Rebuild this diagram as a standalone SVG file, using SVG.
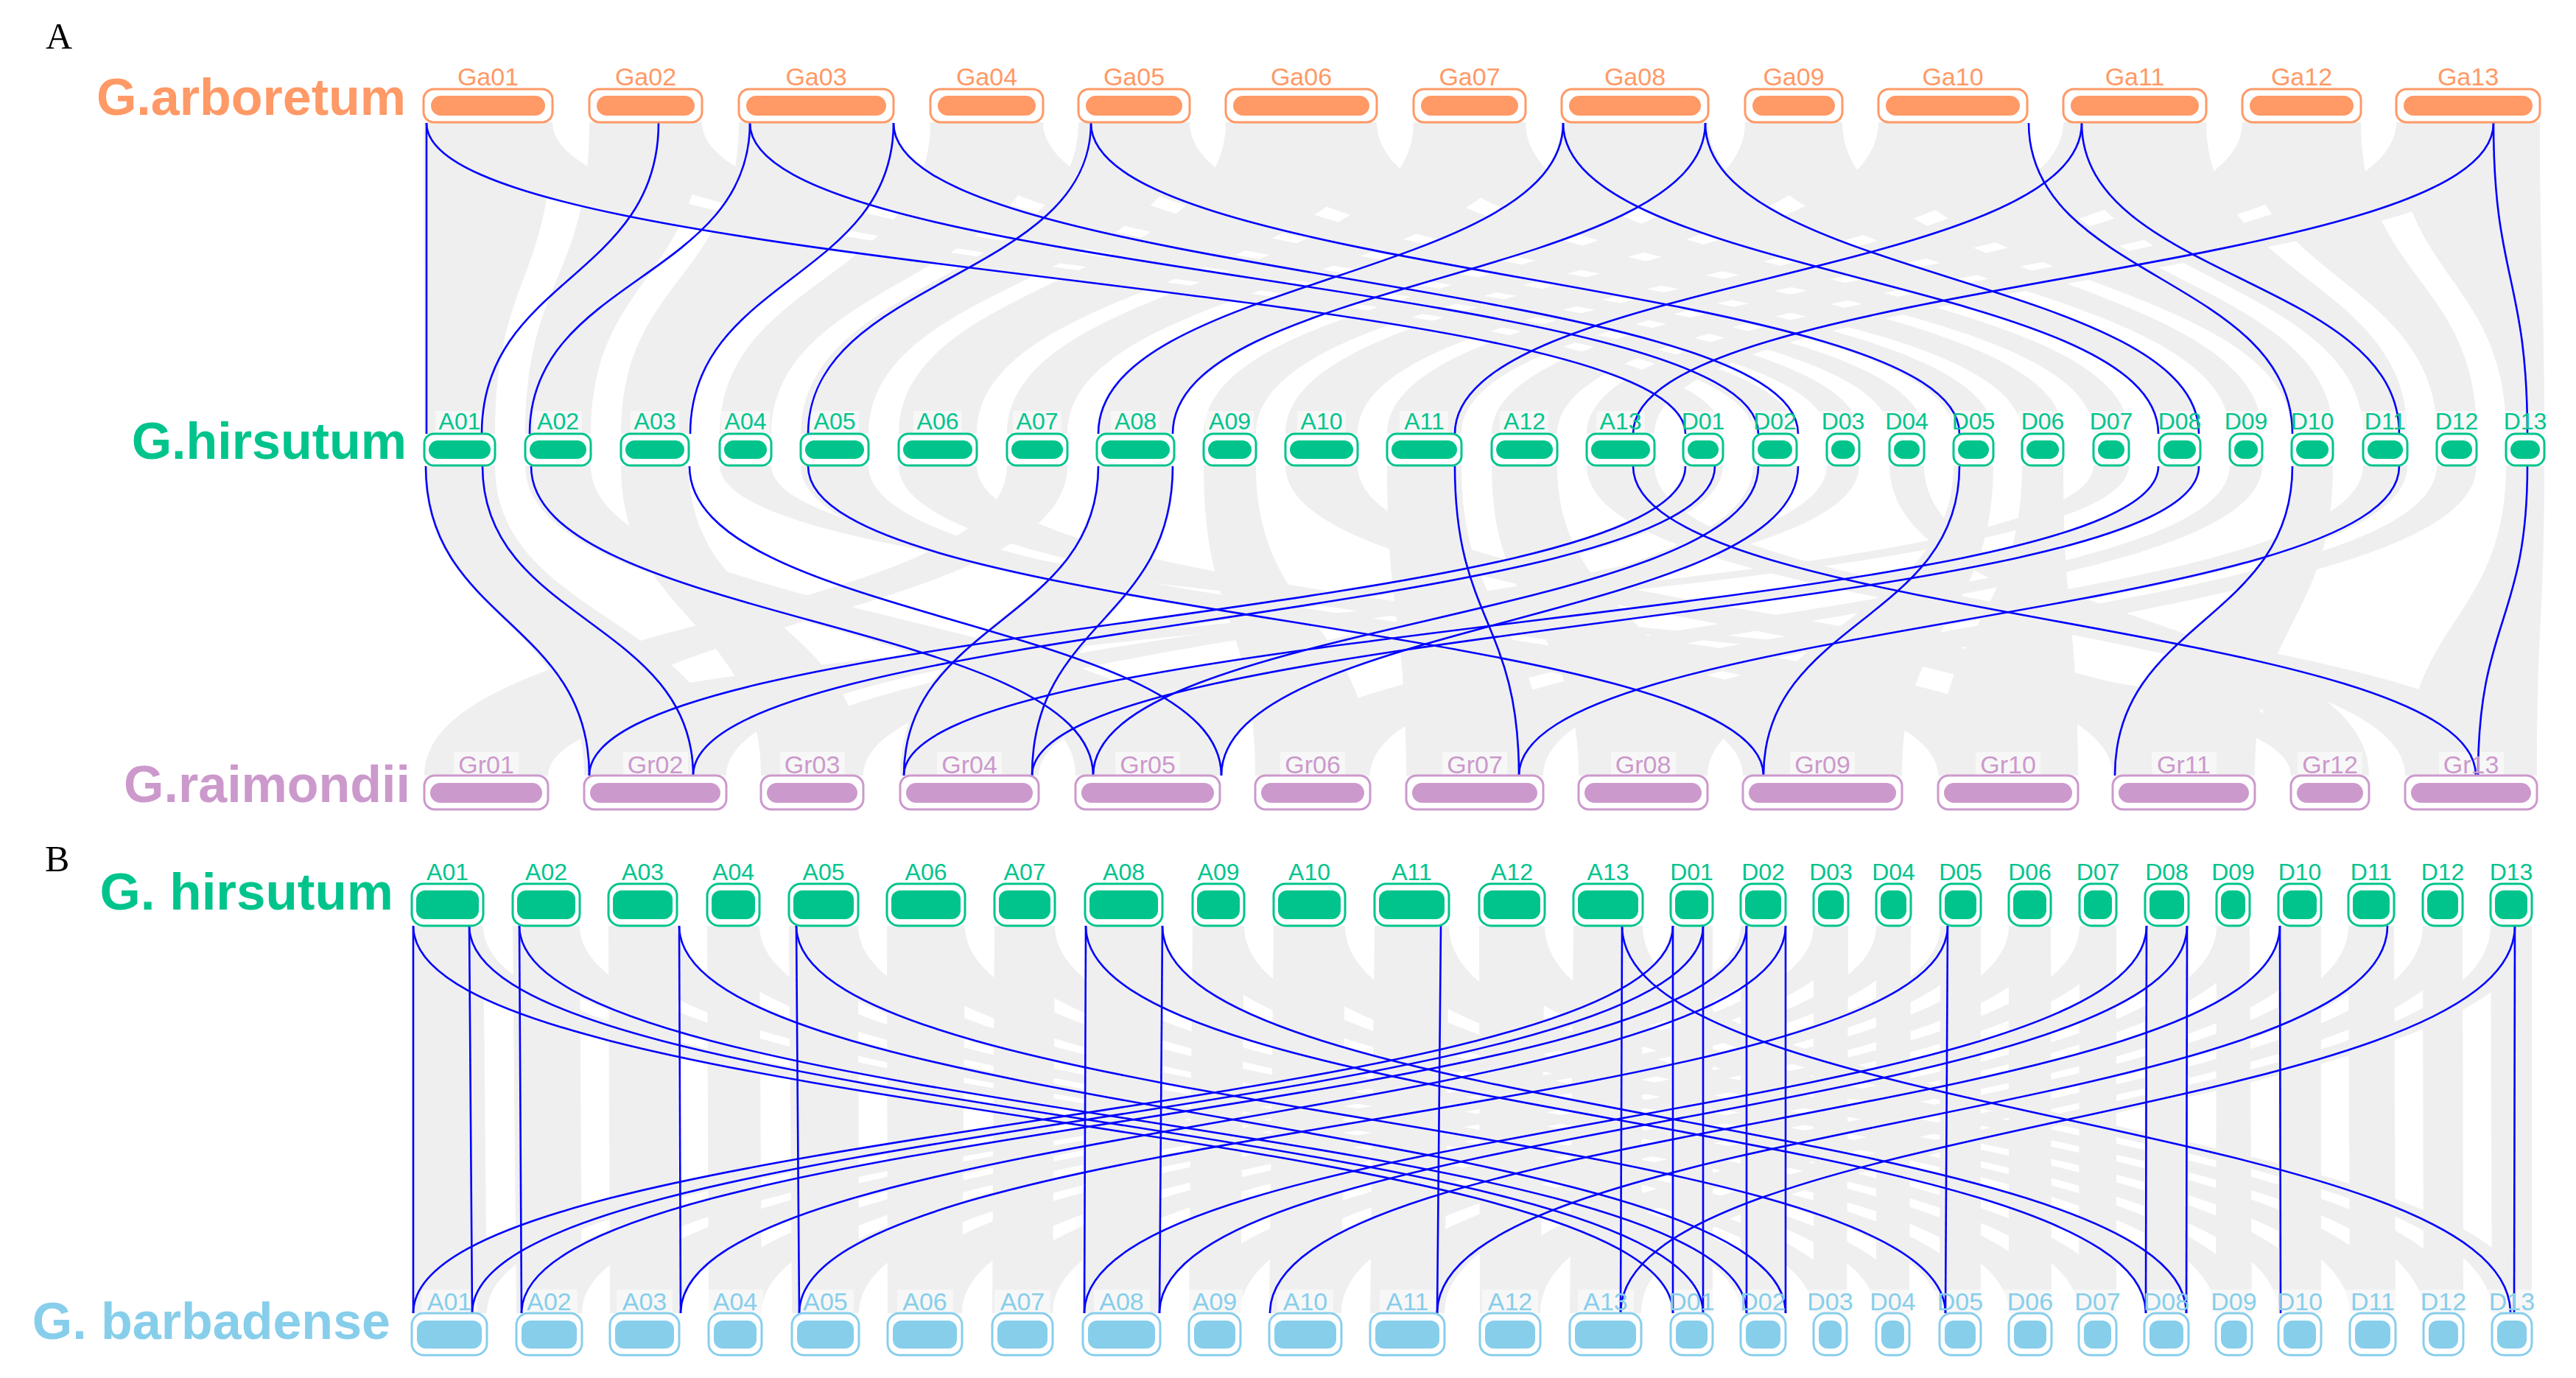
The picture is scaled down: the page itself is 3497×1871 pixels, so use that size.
<svg xmlns="http://www.w3.org/2000/svg" width="3497" height="1871" viewBox="0 0 3497 1871">
<style>
text{font-family:"Liberation Sans",Arial,sans-serif;text-anchor:middle}
.rb{fill:#efefef}
.rx{fill:#efefef}
.lk{fill:none;stroke:#0000ff;stroke-width:2.6}
.lb{fill:#fff;fill-opacity:.5}
.o1{fill:#fff;stroke:#ff9966;stroke-width:3}.i1{fill:#ff9966}.t1{fill:#ff9966;font-size:34px}
.o2{fill:#fff;stroke:#00c48c;stroke-width:3}.i2{fill:#00c48c}.t2{fill:#00c48c;font-size:32px}
.o3{fill:#fff;stroke:#cc99cc;stroke-width:3}.i3{fill:#cc99cc}.t3{fill:#cc99cc;font-size:34px}
.o4{fill:#fff;stroke:#87ceeb;stroke-width:3}.i4{fill:#87ceeb}.t4{fill:#87ceeb;font-size:34px}
.sp{font-weight:bold;font-size:70px;text-anchor:end}
.pl{font-family:"Liberation Serif",serif;font-size:50px;text-anchor:start;fill:#000}
</style>
<rect width="3497" height="1871" fill="#fff"/>
<g id="ribbons">
<g id="ribbons-ga-hirsutum">
<path class="rb" d="M575 166C575 378 576 378 576 589L672 589C672 378 750 378 750 166Z"/>
<path class="rb" d="M800 166C800 378 713 378 713 589L802 589C802 378 953 378 953 166Z"/>
<path class="rb" d="M1003 166C1003 378 843 378 843 589L935 589C935 378 1213 378 1213 166Z"/>
<path class="rb" d="M1263 166C1263 378 977 378 977 589L1047 589C1047 378 1416 378 1416 166Z"/>
<path class="rb" d="M1464 166C1464 378 1087 378 1087 589L1179 589C1179 378 1615 378 1615 166Z"/>
<path class="rb" d="M1664 166C1664 378 1220 378 1220 589L1326 589C1326 378 1869 378 1869 166Z"/>
<path class="rb" d="M1919 166C1919 378 1367 378 1367 589L1449 589C1449 378 2071 378 2071 166Z"/>
<path class="rb" d="M2120 166C2120 378 1489 378 1489 589L1594 589C1594 378 2319 378 2319 166Z"/>
<path class="rb" d="M2369 166C2369 378 1634 378 1634 589L1705 589C1705 378 2501 378 2501 166Z"/>
<path class="rb" d="M2550 166C2550 378 1745 378 1745 589L1843 589C1843 378 2752 378 2752 166Z"/>
<path class="rb" d="M2801 166C2801 378 1883 378 1883 589L1984 589C1984 378 2995 378 2995 166Z"/>
<path class="rb" d="M3044 166C3044 378 2025 378 2025 589L2114 589C2114 378 3205 378 3205 166Z"/>
<path class="rb" d="M3253 166C3253 378 2154 378 2154 589L2246 589C2246 378 3448 378 3448 166Z"/>
<path class="rb" d="M575 166C575 378 2285 378 2285 589L2339 589C2339 378 750 378 750 166Z"/>
<path class="rb" d="M800 166C800 378 2380 378 2380 589L2439 589C2439 378 953 378 953 166Z"/>
<path class="rb" d="M1003 166C1003 378 2480 378 2480 589L2524 589C2524 378 1213 378 1213 166Z"/>
<path class="rb" d="M1263 166C1263 378 2565 378 2565 589L2612 589C2612 378 1416 378 1416 166Z"/>
<path class="rb" d="M1464 166C1464 378 2652 378 2652 589L2706 589C2706 378 1615 378 1615 166Z"/>
<path class="rb" d="M1664 166C1664 378 2745 378 2745 589L2801 589C2801 378 1869 378 1869 166Z"/>
<path class="rb" d="M1919 166C1919 378 2842 378 2842 589L2890 589C2890 378 2071 378 2071 166Z"/>
<path class="rb" d="M2120 166C2120 378 2931 378 2931 589L2987 589C2987 378 2319 378 2319 166Z"/>
<path class="rb" d="M2369 166C2369 378 3027 378 3027 589L3071 589C3071 378 2501 378 2501 166Z"/>
<path class="rb" d="M2550 166C2550 378 3111 378 3111 589L3167 589C3167 378 2752 378 2752 166Z"/>
<path class="rb" d="M2801 166C2801 378 3208 378 3208 589L3268 589C3268 378 2995 378 2995 166Z"/>
<path class="rb" d="M3044 166C3044 378 3308 378 3308 589L3362 589C3362 378 3205 378 3205 166Z"/>
<path class="rb" d="M3253 166C3253 378 3402 378 3402 589L3454 589C3454 378 3448 378 3448 166Z"/>
</g>
<g id="ribbons-hirsutum-gr">
<path class="rb" d="M576 632C576 842 793 842 793 1053L986 1053C986 842 672 842 672 632Z"/>
<path class="rb" d="M713 632C713 842 1460 842 1460 1053L1656 1053C1656 842 802 842 802 632Z"/>
<path class="rb" d="M843 632C843 842 1033 842 1033 1053L1172 1053C1172 842 935 842 935 632Z"/>
<path class="rb" d="M977 632C977 842 3110 842 3110 1053L3216 1053C3216 842 1047 842 1047 632Z"/>
<path class="rb" d="M1087 632C1087 842 2366 842 2366 1053L2582 1053C2582 842 1179 842 1179 632Z"/>
<path class="rb" d="M1220 632C1220 842 2631 842 2631 1053L2821 1053C2821 842 1326 842 1326 632Z"/>
<path class="rb" d="M1367 632C1367 842 576 842 576 1053L744 1053C744 842 1449 842 1449 632Z"/>
<path class="rb" d="M1489 632C1489 842 1222 842 1222 1053L1410 1053C1410 842 1594 842 1594 632Z"/>
<path class="rb" d="M1634 632C1634 842 1704 842 1704 1053L1860 1053C1860 842 1705 842 1705 632Z"/>
<path class="rb" d="M1745 632C1745 842 2868 842 2868 1053L3061 1053C3061 842 1843 842 1843 632Z"/>
<path class="rb" d="M1883 632C1883 842 1909 842 1909 1053L2095 1053C2095 842 1984 842 1984 632Z"/>
<path class="rb" d="M2025 632C2025 842 2143 842 2143 1053L2318 1053C2318 842 2114 842 2114 632Z"/>
<path class="rb" d="M2154 632C2154 842 3265 842 3265 1053L3444 1053C3444 842 2246 842 2246 632Z"/>
<path class="rb" d="M2285 632C2285 842 793 842 793 1053L986 1053C986 842 2339 842 2339 632Z"/>
<path class="rb" d="M2380 632C2380 842 1460 842 1460 1053L1656 1053C1656 842 2439 842 2439 632Z"/>
<path class="rb" d="M2480 632C2480 842 1033 842 1033 1053L1172 1053C1172 842 2524 842 2524 632Z"/>
<path class="rb" d="M2565 632C2565 842 3110 842 3110 1053L3216 1053C3216 842 2612 842 2612 632Z"/>
<path class="rb" d="M2652 632C2652 842 2366 842 2366 1053L2582 1053C2582 842 2706 842 2706 632Z"/>
<path class="rb" d="M2745 632C2745 842 2631 842 2631 1053L2821 1053C2821 842 2801 842 2801 632Z"/>
<path class="rb" d="M2842 632C2842 842 576 842 576 1053L744 1053C744 842 2890 842 2890 632Z"/>
<path class="rb" d="M2931 632C2931 842 1222 842 1222 1053L1410 1053C1410 842 2987 842 2987 632Z"/>
<path class="rb" d="M3027 632C3027 842 1704 842 1704 1053L1860 1053C1860 842 3071 842 3071 632Z"/>
<path class="rb" d="M3111 632C3111 842 2868 842 2868 1053L3061 1053C3061 842 3167 842 3167 632Z"/>
<path class="rb" d="M3208 632C3208 842 1909 842 1909 1053L2095 1053C2095 842 3268 842 3268 632Z"/>
<path class="rb" d="M3308 632C3308 842 2143 842 2143 1053L2318 1053C2318 842 3362 842 3362 632Z"/>
<path class="rb" d="M3402 632C3402 842 3265 842 3265 1053L3444 1053C3444 842 3454 842 3454 632Z"/>
</g>
<g id="ribbons-hirsutum-barbadense">
<path class="rx" d="M559 1257C559 1520 2268 1520 2268 1783L2325 1783C2325 1520 656 1520 656 1257Z"/>
<path class="rx" d="M696 1257C696 1520 2363 1520 2363 1783L2424 1783C2424 1520 787 1520 787 1257Z"/>
<path class="rx" d="M826 1257C826 1520 2462 1520 2462 1783L2507 1783C2507 1520 919 1520 919 1257Z"/>
<path class="rx" d="M960 1257C960 1520 2547 1520 2547 1783L2592 1783C2592 1520 1031 1520 1031 1257Z"/>
<path class="rx" d="M1071 1257C1071 1520 2633 1520 2633 1783L2689 1783C2689 1520 1165 1520 1165 1257Z"/>
<path class="rx" d="M1204 1257C1204 1520 2727 1520 2727 1783L2785 1783C2785 1520 1310 1520 1310 1257Z"/>
<path class="rx" d="M1350 1257C1350 1520 2822 1520 2822 1783L2873 1783C2873 1520 1432 1520 1432 1257Z"/>
<path class="rx" d="M1473 1257C1473 1520 2911 1520 2911 1783L2971 1783C2971 1520 1578 1520 1578 1257Z"/>
<path class="rx" d="M1619 1257C1619 1520 3008 1520 3008 1783L3057 1783C3057 1520 1689 1520 1689 1257Z"/>
<path class="rx" d="M1729 1257C1729 1520 3093 1520 3093 1783L3151 1783C3151 1520 1826 1520 1826 1257Z"/>
<path class="rx" d="M1866 1257C1866 1520 3190 1520 3190 1783L3252 1783C3252 1520 1967 1520 1967 1257Z"/>
<path class="rx" d="M2008 1257C2008 1520 3290 1520 3290 1783L3344 1783C3344 1520 2097 1520 2097 1257Z"/>
<path class="rx" d="M2136 1257C2136 1520 3383 1520 3383 1783L3437 1783C3437 1520 2230 1520 2230 1257Z"/>
<path class="rx" d="M2268 1257C2268 1520 559 1520 559 1783L661 1783C661 1520 2325 1520 2325 1257Z"/>
<path class="rx" d="M2363 1257C2363 1520 701 1520 701 1783L790 1783C790 1520 2424 1520 2424 1257Z"/>
<path class="rx" d="M2462 1257C2462 1520 828 1520 828 1783L922 1783C922 1520 2509 1520 2509 1257Z"/>
<path class="rx" d="M2547 1257C2547 1520 962 1520 962 1783L1034 1783C1034 1520 2594 1520 2594 1257Z"/>
<path class="rx" d="M2634 1257C2634 1520 1075 1520 1075 1783L1166 1783C1166 1520 2689 1520 2689 1257Z"/>
<path class="rx" d="M2727 1257C2727 1520 1205 1520 1205 1783L1306 1783C1306 1520 2784 1520 2784 1257Z"/>
<path class="rx" d="M2823 1257C2823 1520 1347 1520 1347 1783L1429 1783C1429 1520 2873 1520 2873 1257Z"/>
<path class="rx" d="M2912 1257C2912 1520 1470 1520 1470 1783L1575 1783C1575 1520 2971 1520 2971 1257Z"/>
<path class="rx" d="M3009 1257C3009 1520 1614 1520 1614 1783L1684 1783C1684 1520 3054 1520 3054 1257Z"/>
<path class="rx" d="M3093 1257C3093 1520 1723 1520 1723 1783L1821 1783C1821 1520 3151 1520 3151 1257Z"/>
<path class="rx" d="M3188 1257C3188 1520 1860 1520 1860 1783L1961 1783C1961 1520 3250 1520 3250 1257Z"/>
<path class="rx" d="M3289 1257C3289 1520 2009 1520 2009 1783L2091 1783C2091 1520 3343 1520 3343 1257Z"/>
<path class="rx" d="M3381 1257C3381 1520 2131 1520 2131 1783L2228 1783C2228 1520 3437 1520 3437 1257Z"/>
<path class="rb" d="M559 1257L559 1783L661 1783L656 1257Z"/>
<path class="rb" d="M696 1257L701 1783L790 1783L787 1257Z"/>
<path class="rb" d="M826 1257L828 1783L922 1783L919 1257Z"/>
<path class="rb" d="M960 1257L962 1783L1034 1783L1031 1257Z"/>
<path class="rb" d="M1071 1257L1075 1783L1166 1783L1165 1257Z"/>
<path class="rb" d="M1204 1257L1205 1783L1306 1783L1310 1257Z"/>
<path class="rb" d="M1350 1257L1347 1783L1429 1783L1432 1257Z"/>
<path class="rb" d="M1473 1257L1470 1783L1575 1783L1578 1257Z"/>
<path class="rb" d="M1619 1257L1614 1783L1684 1783L1689 1257Z"/>
<path class="rb" d="M1729 1257L1723 1783L1821 1783L1826 1257Z"/>
<path class="rb" d="M1866 1257L1860 1783L1961 1783L1967 1257Z"/>
<path class="rb" d="M2008 1257L2009 1783L2091 1783L2097 1257Z"/>
<path class="rb" d="M2136 1257L2131 1783L2228 1783L2230 1257Z"/>
<path class="rb" d="M2268 1257L2268 1783L2325 1783L2325 1257Z"/>
<path class="rb" d="M2363 1257L2363 1783L2424 1783L2424 1257Z"/>
<path class="rb" d="M2462 1257L2462 1783L2507 1783L2509 1257Z"/>
<path class="rb" d="M2547 1257L2547 1783L2592 1783L2594 1257Z"/>
<path class="rb" d="M2634 1257L2633 1783L2689 1783L2689 1257Z"/>
<path class="rb" d="M2727 1257L2727 1783L2785 1783L2784 1257Z"/>
<path class="rb" d="M2823 1257L2822 1783L2873 1783L2873 1257Z"/>
<path class="rb" d="M2912 1257L2911 1783L2971 1783L2971 1257Z"/>
<path class="rb" d="M3009 1257L3008 1783L3057 1783L3054 1257Z"/>
<path class="rb" d="M3093 1257L3093 1783L3151 1783L3151 1257Z"/>
<path class="rb" d="M3188 1257L3190 1783L3252 1783L3250 1257Z"/>
<path class="rb" d="M3289 1257L3290 1783L3344 1783L3343 1257Z"/>
<path class="rb" d="M3381 1257L3383 1783L3437 1783L3437 1257Z"/>
</g>
</g>
<g id="label-backgrounds">
<g class="lb">
<rect x="591" y="558" width="66" height="30"/><rect x="724" y="558" width="66" height="30"/><rect x="856" y="558" width="66" height="30"/><rect x="979" y="558" width="66" height="30"/><rect x="1100" y="558" width="66" height="30"/><rect x="1240" y="558" width="66" height="30"/><rect x="1375" y="558" width="66" height="30"/><rect x="1508" y="558" width="66" height="30"/><rect x="1636" y="558" width="66" height="30"/><rect x="1761" y="558" width="66" height="30"/><rect x="1900" y="558" width="66" height="30"/><rect x="2036" y="558" width="66" height="30"/><rect x="2167" y="558" width="66" height="30"/><rect x="2279" y="558" width="66" height="30"/><rect x="2377" y="558" width="66" height="30"/><rect x="2469" y="558" width="66" height="30"/><rect x="2555" y="558" width="66" height="30"/><rect x="2646" y="558" width="66" height="30"/><rect x="2740" y="558" width="66" height="30"/><rect x="2833" y="558" width="66" height="30"/><rect x="2926" y="558" width="66" height="30"/><rect x="3016" y="558" width="66" height="30"/><rect x="3106" y="558" width="66" height="30"/><rect x="3205" y="558" width="66" height="30"/><rect x="3302" y="558" width="66" height="30"/><rect x="3395" y="558" width="66" height="30"/>
<rect x="616" y="1021" width="88" height="31"/><rect x="846" y="1021" width="88" height="31"/><rect x="1059" y="1021" width="88" height="31"/><rect x="1272" y="1021" width="88" height="31"/><rect x="1514" y="1021" width="88" height="31"/><rect x="1738" y="1021" width="88" height="31"/><rect x="1958" y="1021" width="88" height="31"/><rect x="2187" y="1021" width="88" height="31"/><rect x="2430" y="1021" width="88" height="31"/><rect x="2682" y="1021" width="88" height="31"/><rect x="2921" y="1021" width="88" height="31"/><rect x="3119" y="1021" width="88" height="31"/><rect x="3311" y="1021" width="88" height="31"/>
<rect x="572" y="1751" width="76" height="34"/><rect x="708" y="1751" width="76" height="34"/><rect x="837" y="1751" width="76" height="34"/><rect x="960" y="1751" width="76" height="34"/><rect x="1083" y="1751" width="76" height="34"/><rect x="1218" y="1751" width="76" height="34"/><rect x="1350" y="1751" width="76" height="34"/><rect x="1485" y="1751" width="76" height="34"/><rect x="1611" y="1751" width="76" height="34"/><rect x="1734" y="1751" width="76" height="34"/><rect x="1873" y="1751" width="76" height="34"/><rect x="2012" y="1751" width="76" height="34"/><rect x="2142" y="1751" width="76" height="34"/><rect x="2259" y="1751" width="76" height="34"/><rect x="2356" y="1751" width="76" height="34"/><rect x="2447" y="1751" width="76" height="34"/><rect x="2532" y="1751" width="76" height="34"/><rect x="2623" y="1751" width="76" height="34"/><rect x="2718" y="1751" width="76" height="34"/><rect x="2810" y="1751" width="76" height="34"/><rect x="2903" y="1751" width="76" height="34"/><rect x="2995" y="1751" width="76" height="34"/><rect x="3084" y="1751" width="76" height="34"/><rect x="3183" y="1751" width="76" height="34"/><rect x="3279" y="1751" width="76" height="34"/><rect x="3372" y="1751" width="76" height="34"/>
</g>
</g>
<g id="connectors">
<g id="links-ga-hirsutum">
<path class="lk" d="M579 167L579 589"/>
<path class="lk" d="M579 167C579 378 2288 378 2288 589"/>
<path class="lk" d="M894 167C894 378 654 378 654 589"/>
<path class="lk" d="M1018 167C1018 378 719 378 719 589"/>
<path class="lk" d="M1018 167C1018 378 2387 378 2387 589"/>
<path class="lk" d="M1213 167C1213 378 937 378 937 589"/>
<path class="lk" d="M1213 167C1213 378 2441 378 2441 589"/>
<path class="lk" d="M1481 167C1481 378 1097 378 1097 589"/>
<path class="lk" d="M1481 167C1481 378 2660 378 2660 589"/>
<path class="lk" d="M2122 167C2122 378 1491 378 1491 589"/>
<path class="lk" d="M2122 167C2122 378 2930 378 2930 589"/>
<path class="lk" d="M2315 167C2315 378 1592 378 1592 589"/>
<path class="lk" d="M2315 167C2315 378 2985 378 2985 589"/>
<path class="lk" d="M2754 167C2754 378 3112 378 3112 589"/>
<path class="lk" d="M2826 167C2826 378 1975 378 1975 589"/>
<path class="lk" d="M2826 167C2826 378 3257 378 3257 589"/>
<path class="lk" d="M3385 167C3385 378 2217 378 2217 589"/>
<path class="lk" d="M3385 167C3385 378 3431 378 3431 589"/>
</g>
<g id="links-hirsutum-gr">
<path class="lk" d="M578 633C578 843 800 843 800 1053"/>
<path class="lk" d="M655 633C655 843 941 843 941 1053"/>
<path class="lk" d="M721 633C721 843 1484 843 1484 1053"/>
<path class="lk" d="M936 633C936 843 1658 843 1658 1053"/>
<path class="lk" d="M1097 633C1097 843 2394 843 2394 1053"/>
<path class="lk" d="M1491 633C1491 843 1227 843 1227 1053"/>
<path class="lk" d="M1592 633C1592 843 1401 843 1401 1053"/>
<path class="lk" d="M1975 633C1975 843 2062 843 2062 1053"/>
<path class="lk" d="M2217 633C2217 843 3361 843 3361 1053"/>
<path class="lk" d="M2288 633C2288 843 800 843 800 1053"/>
<path class="lk" d="M2328 633C2328 843 941 843 941 1053"/>
<path class="lk" d="M2387 633C2387 843 1484 843 1484 1053"/>
<path class="lk" d="M2441 633C2441 843 1658 843 1658 1053"/>
<path class="lk" d="M2660 633C2660 843 2394 843 2394 1053"/>
<path class="lk" d="M2930 633C2930 843 1227 843 1227 1053"/>
<path class="lk" d="M2985 633C2985 843 1401 843 1401 1053"/>
<path class="lk" d="M3112 633C3112 843 2871 843 2871 1053"/>
<path class="lk" d="M3257 633C3257 843 2062 843 2062 1053"/>
<path class="lk" d="M3431 633C3431 843 3364 843 3364 1053"/>
</g>
<g id="links-hirsutum-barbadense">
<path class="lk" d="M561 1257L561 1783"/>
<path class="lk" d="M637 1257L641 1783"/>
<path class="lk" d="M705 1257L708 1783"/>
<path class="lk" d="M922 1257L924 1783"/>
<path class="lk" d="M1081 1257L1085 1783"/>
<path class="lk" d="M1474 1257L1472 1783"/>
<path class="lk" d="M1578 1257L1574 1783"/>
<path class="lk" d="M1956 1257L1951 1783"/>
<path class="lk" d="M2202 1257L2200 1783"/>
<path class="lk" d="M2271 1257L2271 1783"/>
<path class="lk" d="M2312 1257L2312 1783"/>
<path class="lk" d="M2371 1257L2371 1783"/>
<path class="lk" d="M2424 1257L2424 1783"/>
<path class="lk" d="M2644 1257L2641 1783"/>
<path class="lk" d="M2914 1257L2913 1783"/>
<path class="lk" d="M2969 1257L2968 1783"/>
<path class="lk" d="M3095 1257L3096 1783"/>
<path class="lk" d="M3414 1257L3413 1783"/>
<path class="lk" d="M561 1257C561 1520 2271 1520 2271 1783"/>
<path class="lk" d="M637 1257C637 1520 2312 1520 2312 1783"/>
<path class="lk" d="M705 1257C705 1520 2371 1520 2371 1783"/>
<path class="lk" d="M922 1257C922 1520 2424 1520 2424 1783"/>
<path class="lk" d="M1081 1257C1081 1520 2641 1520 2641 1783"/>
<path class="lk" d="M1474 1257C1474 1520 2913 1520 2913 1783"/>
<path class="lk" d="M1578 1257C1578 1520 2968 1520 2968 1783"/>
<path class="lk" d="M2202 1257C2202 1520 3408 1520 3408 1783"/>
<path class="lk" d="M2271 1257C2271 1520 561 1520 561 1783"/>
<path class="lk" d="M2312 1257C2312 1520 641 1520 641 1783"/>
<path class="lk" d="M2371 1257C2371 1520 708 1520 708 1783"/>
<path class="lk" d="M2424 1257C2424 1520 924 1520 924 1783"/>
<path class="lk" d="M2644 1257C2644 1520 1085 1520 1085 1783"/>
<path class="lk" d="M2914 1257C2914 1520 1472 1520 1472 1783"/>
<path class="lk" d="M2969 1257C2969 1520 1574 1520 1574 1783"/>
<path class="lk" d="M3095 1257C3095 1520 1724 1520 1724 1783"/>
<path class="lk" d="M3241 1257C3241 1520 1951 1520 1951 1783"/>
<path class="lk" d="M3414 1257C3414 1520 2200 1520 2200 1783"/>
</g>
</g>
<g id="titles">
<text class="pl" x="62" y="66">A</text>
<text class="pl" x="61" y="1183">B</text>
<text class="sp" x="551" y="156" fill="#ff9966">G.arboretum</text>
<text class="sp" x="552" y="623" fill="#00c48c">G.hirsutum</text>
<text class="sp" x="557" y="1089" fill="#cc99cc">G.raimondii</text>
<text class="sp" x="534" y="1235" fill="#00c48c" style="font-size:71px">G. hirsutum</text>
<text class="sp" x="530" y="1818" fill="#87ceeb">G. barbadense</text>
</g>
<g id="arboretum">
<g id="Ga01"><rect class="o1" x="575" y="121" width="175" height="45" rx="14"/><rect class="i1" x="585" y="130" width="155" height="27" rx="13.5"/><text class="t1" x="662.5" y="116">Ga01</text></g>
<g id="Ga02"><rect class="o1" x="800" y="121" width="153" height="45" rx="14"/><rect class="i1" x="810" y="130" width="133" height="27" rx="13.5"/><text class="t1" x="876.5" y="116">Ga02</text></g>
<g id="Ga03"><rect class="o1" x="1003" y="121" width="210" height="45" rx="14"/><rect class="i1" x="1013" y="130" width="190" height="27" rx="13.5"/><text class="t1" x="1108" y="116">Ga03</text></g>
<g id="Ga04"><rect class="o1" x="1263" y="121" width="153" height="45" rx="14"/><rect class="i1" x="1273" y="130" width="133" height="27" rx="13.5"/><text class="t1" x="1339.5" y="116">Ga04</text></g>
<g id="Ga05"><rect class="o1" x="1464" y="121" width="151" height="45" rx="14"/><rect class="i1" x="1474" y="130" width="131" height="27" rx="13.5"/><text class="t1" x="1539.5" y="116">Ga05</text></g>
<g id="Ga06"><rect class="o1" x="1664" y="121" width="205" height="45" rx="14"/><rect class="i1" x="1674" y="130" width="185" height="27" rx="13.5"/><text class="t1" x="1766.5" y="116">Ga06</text></g>
<g id="Ga07"><rect class="o1" x="1919" y="121" width="152" height="45" rx="14"/><rect class="i1" x="1929" y="130" width="132" height="27" rx="13.5"/><text class="t1" x="1995" y="116">Ga07</text></g>
<g id="Ga08"><rect class="o1" x="2120" y="121" width="199" height="45" rx="14"/><rect class="i1" x="2130" y="130" width="179" height="27" rx="13.5"/><text class="t1" x="2219.5" y="116">Ga08</text></g>
<g id="Ga09"><rect class="o1" x="2369" y="121" width="132" height="45" rx="14"/><rect class="i1" x="2379" y="130" width="112" height="27" rx="13.5"/><text class="t1" x="2435" y="116">Ga09</text></g>
<g id="Ga10"><rect class="o1" x="2550" y="121" width="202" height="45" rx="14"/><rect class="i1" x="2560" y="130" width="182" height="27" rx="13.5"/><text class="t1" x="2651" y="116">Ga10</text></g>
<g id="Ga11"><rect class="o1" x="2801" y="121" width="194" height="45" rx="14"/><rect class="i1" x="2811" y="130" width="174" height="27" rx="13.5"/><text class="t1" x="2898" y="116">Ga11</text></g>
<g id="Ga12"><rect class="o1" x="3044" y="121" width="161" height="45" rx="14"/><rect class="i1" x="3054" y="130" width="141" height="27" rx="13.5"/><text class="t1" x="3124.5" y="116">Ga12</text></g>
<g id="Ga13"><rect class="o1" x="3253" y="121" width="195" height="45" rx="14"/><rect class="i1" x="3263" y="130" width="175" height="27" rx="13.5"/><text class="t1" x="3350.5" y="116">Ga13</text></g>
</g>
<g id="hirsutum-A">
<g id="hA-A01"><rect class="o2" x="576" y="589" width="96" height="43" rx="13"/><rect class="i2" x="582" y="598" width="84" height="25" rx="12.5"/><text class="t2" x="624" y="583">A01</text></g>
<g id="hA-A02"><rect class="o2" x="713" y="589" width="89" height="43" rx="13"/><rect class="i2" x="719" y="598" width="77" height="25" rx="12.5"/><text class="t2" x="757.5" y="583">A02</text></g>
<g id="hA-A03"><rect class="o2" x="843" y="589" width="92" height="43" rx="13"/><rect class="i2" x="849" y="598" width="80" height="25" rx="12.5"/><text class="t2" x="889" y="583">A03</text></g>
<g id="hA-A04"><rect class="o2" x="977" y="589" width="70" height="43" rx="13"/><rect class="i2" x="983" y="598" width="58" height="25" rx="12.5"/><text class="t2" x="1012" y="583">A04</text></g>
<g id="hA-A05"><rect class="o2" x="1087" y="589" width="92" height="43" rx="13"/><rect class="i2" x="1093" y="598" width="80" height="25" rx="12.5"/><text class="t2" x="1133" y="583">A05</text></g>
<g id="hA-A06"><rect class="o2" x="1220" y="589" width="106" height="43" rx="13"/><rect class="i2" x="1226" y="598" width="94" height="25" rx="12.5"/><text class="t2" x="1273" y="583">A06</text></g>
<g id="hA-A07"><rect class="o2" x="1367" y="589" width="82" height="43" rx="13"/><rect class="i2" x="1373" y="598" width="70" height="25" rx="12.5"/><text class="t2" x="1408" y="583">A07</text></g>
<g id="hA-A08"><rect class="o2" x="1489" y="589" width="105" height="43" rx="13"/><rect class="i2" x="1495" y="598" width="93" height="25" rx="12.5"/><text class="t2" x="1541.5" y="583">A08</text></g>
<g id="hA-A09"><rect class="o2" x="1634" y="589" width="71" height="43" rx="13"/><rect class="i2" x="1640" y="598" width="59" height="25" rx="12.5"/><text class="t2" x="1669.5" y="583">A09</text></g>
<g id="hA-A10"><rect class="o2" x="1745" y="589" width="98" height="43" rx="13"/><rect class="i2" x="1751" y="598" width="86" height="25" rx="12.5"/><text class="t2" x="1794" y="583">A10</text></g>
<g id="hA-A11"><rect class="o2" x="1883" y="589" width="101" height="43" rx="13"/><rect class="i2" x="1889" y="598" width="89" height="25" rx="12.5"/><text class="t2" x="1933.5" y="583">A11</text></g>
<g id="hA-A12"><rect class="o2" x="2025" y="589" width="89" height="43" rx="13"/><rect class="i2" x="2031" y="598" width="77" height="25" rx="12.5"/><text class="t2" x="2069.5" y="583">A12</text></g>
<g id="hA-A13"><rect class="o2" x="2154" y="589" width="92" height="43" rx="13"/><rect class="i2" x="2160" y="598" width="80" height="25" rx="12.5"/><text class="t2" x="2200" y="583">A13</text></g>
<g id="hA-D01"><rect class="o2" x="2285" y="589" width="54" height="43" rx="13"/><rect class="i2" x="2291" y="598" width="42" height="25" rx="12.5"/><text class="t2" x="2312" y="583">D01</text></g>
<g id="hA-D02"><rect class="o2" x="2380" y="589" width="59" height="43" rx="13"/><rect class="i2" x="2386" y="598" width="47" height="25" rx="12.5"/><text class="t2" x="2409.5" y="583">D02</text></g>
<g id="hA-D03"><rect class="o2" x="2480" y="589" width="44" height="43" rx="13"/><rect class="i2" x="2486" y="598" width="32" height="25" rx="12.5"/><text class="t2" x="2502" y="583">D03</text></g>
<g id="hA-D04"><rect class="o2" x="2565" y="589" width="47" height="43" rx="13"/><rect class="i2" x="2571" y="598" width="35" height="25" rx="12.5"/><text class="t2" x="2588.5" y="583">D04</text></g>
<g id="hA-D05"><rect class="o2" x="2652" y="589" width="54" height="43" rx="13"/><rect class="i2" x="2658" y="598" width="42" height="25" rx="12.5"/><text class="t2" x="2679" y="583">D05</text></g>
<g id="hA-D06"><rect class="o2" x="2745" y="589" width="56" height="43" rx="13"/><rect class="i2" x="2751" y="598" width="44" height="25" rx="12.5"/><text class="t2" x="2773" y="583">D06</text></g>
<g id="hA-D07"><rect class="o2" x="2842" y="589" width="48" height="43" rx="13"/><rect class="i2" x="2848" y="598" width="36" height="25" rx="12.5"/><text class="t2" x="2866" y="583">D07</text></g>
<g id="hA-D08"><rect class="o2" x="2931" y="589" width="56" height="43" rx="13"/><rect class="i2" x="2937" y="598" width="44" height="25" rx="12.5"/><text class="t2" x="2959" y="583">D08</text></g>
<g id="hA-D09"><rect class="o2" x="3027" y="589" width="44" height="43" rx="13"/><rect class="i2" x="3033" y="598" width="32" height="25" rx="12.5"/><text class="t2" x="3049" y="583">D09</text></g>
<g id="hA-D10"><rect class="o2" x="3111" y="589" width="56" height="43" rx="13"/><rect class="i2" x="3117" y="598" width="44" height="25" rx="12.5"/><text class="t2" x="3139" y="583">D10</text></g>
<g id="hA-D11"><rect class="o2" x="3208" y="589" width="60" height="43" rx="13"/><rect class="i2" x="3214" y="598" width="48" height="25" rx="12.5"/><text class="t2" x="3238" y="583">D11</text></g>
<g id="hA-D12"><rect class="o2" x="3308" y="589" width="54" height="43" rx="13"/><rect class="i2" x="3314" y="598" width="42" height="25" rx="12.5"/><text class="t2" x="3335" y="583">D12</text></g>
<g id="hA-D13"><rect class="o2" x="3402" y="589" width="52" height="43" rx="13"/><rect class="i2" x="3408" y="598" width="40" height="25" rx="12.5"/><text class="t2" x="3428" y="583">D13</text></g>
</g>
<g id="raimondii">
<g id="Gr01"><rect class="o3" x="576" y="1053" width="168" height="46" rx="14"/><rect class="i3" x="584" y="1063" width="152" height="27" rx="13.5"/><text class="t3" x="660" y="1050">Gr01</text></g>
<g id="Gr02"><rect class="o3" x="793" y="1053" width="193" height="46" rx="14"/><rect class="i3" x="801" y="1063" width="177" height="27" rx="13.5"/><text class="t3" x="889.5" y="1050">Gr02</text></g>
<g id="Gr03"><rect class="o3" x="1033" y="1053" width="139" height="46" rx="14"/><rect class="i3" x="1041" y="1063" width="123" height="27" rx="13.5"/><text class="t3" x="1102.5" y="1050">Gr03</text></g>
<g id="Gr04"><rect class="o3" x="1222" y="1053" width="188" height="46" rx="14"/><rect class="i3" x="1230" y="1063" width="172" height="27" rx="13.5"/><text class="t3" x="1316" y="1050">Gr04</text></g>
<g id="Gr05"><rect class="o3" x="1460" y="1053" width="196" height="46" rx="14"/><rect class="i3" x="1468" y="1063" width="180" height="27" rx="13.5"/><text class="t3" x="1558" y="1050">Gr05</text></g>
<g id="Gr06"><rect class="o3" x="1704" y="1053" width="156" height="46" rx="14"/><rect class="i3" x="1712" y="1063" width="140" height="27" rx="13.5"/><text class="t3" x="1782" y="1050">Gr06</text></g>
<g id="Gr07"><rect class="o3" x="1909" y="1053" width="186" height="46" rx="14"/><rect class="i3" x="1917" y="1063" width="170" height="27" rx="13.5"/><text class="t3" x="2002" y="1050">Gr07</text></g>
<g id="Gr08"><rect class="o3" x="2143" y="1053" width="175" height="46" rx="14"/><rect class="i3" x="2151" y="1063" width="159" height="27" rx="13.5"/><text class="t3" x="2230.5" y="1050">Gr08</text></g>
<g id="Gr09"><rect class="o3" x="2366" y="1053" width="216" height="46" rx="14"/><rect class="i3" x="2374" y="1063" width="200" height="27" rx="13.5"/><text class="t3" x="2474" y="1050">Gr09</text></g>
<g id="Gr10"><rect class="o3" x="2631" y="1053" width="190" height="46" rx="14"/><rect class="i3" x="2639" y="1063" width="174" height="27" rx="13.5"/><text class="t3" x="2726" y="1050">Gr10</text></g>
<g id="Gr11"><rect class="o3" x="2868" y="1053" width="193" height="46" rx="14"/><rect class="i3" x="2876" y="1063" width="177" height="27" rx="13.5"/><text class="t3" x="2964.5" y="1050">Gr11</text></g>
<g id="Gr12"><rect class="o3" x="3110" y="1053" width="106" height="46" rx="14"/><rect class="i3" x="3118" y="1063" width="90" height="27" rx="13.5"/><text class="t3" x="3163" y="1050">Gr12</text></g>
<g id="Gr13"><rect class="o3" x="3265" y="1053" width="179" height="46" rx="14"/><rect class="i3" x="3273" y="1063" width="163" height="27" rx="13.5"/><text class="t3" x="3354.5" y="1050">Gr13</text></g>
</g>
<g id="hirsutum-B">
<g id="hB-A01"><rect class="o2" x="559" y="1200" width="97" height="57" rx="16"/><rect class="i2" x="565" y="1209" width="85" height="39" rx="12"/><text class="t2" x="607.5" y="1195">A01</text></g>
<g id="hB-A02"><rect class="o2" x="696" y="1200" width="91" height="57" rx="16"/><rect class="i2" x="702" y="1209" width="79" height="39" rx="12"/><text class="t2" x="741.5" y="1195">A02</text></g>
<g id="hB-A03"><rect class="o2" x="826" y="1200" width="93" height="57" rx="16"/><rect class="i2" x="832" y="1209" width="81" height="39" rx="12"/><text class="t2" x="872.5" y="1195">A03</text></g>
<g id="hB-A04"><rect class="o2" x="960" y="1200" width="71" height="57" rx="16"/><rect class="i2" x="966" y="1209" width="59" height="39" rx="12"/><text class="t2" x="995.5" y="1195">A04</text></g>
<g id="hB-A05"><rect class="o2" x="1071" y="1200" width="94" height="57" rx="16"/><rect class="i2" x="1077" y="1209" width="82" height="39" rx="12"/><text class="t2" x="1118" y="1195">A05</text></g>
<g id="hB-A06"><rect class="o2" x="1204" y="1200" width="106" height="57" rx="16"/><rect class="i2" x="1210" y="1209" width="94" height="39" rx="12"/><text class="t2" x="1257" y="1195">A06</text></g>
<g id="hB-A07"><rect class="o2" x="1350" y="1200" width="82" height="57" rx="16"/><rect class="i2" x="1356" y="1209" width="70" height="39" rx="12"/><text class="t2" x="1391" y="1195">A07</text></g>
<g id="hB-A08"><rect class="o2" x="1473" y="1200" width="105" height="57" rx="16"/><rect class="i2" x="1479" y="1209" width="93" height="39" rx="12"/><text class="t2" x="1525.5" y="1195">A08</text></g>
<g id="hB-A09"><rect class="o2" x="1619" y="1200" width="70" height="57" rx="16"/><rect class="i2" x="1625" y="1209" width="58" height="39" rx="12"/><text class="t2" x="1654" y="1195">A09</text></g>
<g id="hB-A10"><rect class="o2" x="1729" y="1200" width="97" height="57" rx="16"/><rect class="i2" x="1735" y="1209" width="85" height="39" rx="12"/><text class="t2" x="1777.5" y="1195">A10</text></g>
<g id="hB-A11"><rect class="o2" x="1866" y="1200" width="101" height="57" rx="16"/><rect class="i2" x="1872" y="1209" width="89" height="39" rx="12"/><text class="t2" x="1916.5" y="1195">A11</text></g>
<g id="hB-A12"><rect class="o2" x="2008" y="1200" width="89" height="57" rx="16"/><rect class="i2" x="2014" y="1209" width="77" height="39" rx="12"/><text class="t2" x="2052.5" y="1195">A12</text></g>
<g id="hB-A13"><rect class="o2" x="2136" y="1200" width="94" height="57" rx="16"/><rect class="i2" x="2142" y="1209" width="82" height="39" rx="12"/><text class="t2" x="2183" y="1195">A13</text></g>
<g id="hB-D01"><rect class="o2" x="2268" y="1200" width="57" height="57" rx="16"/><rect class="i2" x="2274" y="1209" width="45" height="39" rx="12"/><text class="t2" x="2296.5" y="1195">D01</text></g>
<g id="hB-D02"><rect class="o2" x="2363" y="1200" width="61" height="57" rx="16"/><rect class="i2" x="2369" y="1209" width="49" height="39" rx="12"/><text class="t2" x="2393.5" y="1195">D02</text></g>
<g id="hB-D03"><rect class="o2" x="2462" y="1200" width="47" height="57" rx="16"/><rect class="i2" x="2468" y="1209" width="35" height="39" rx="12"/><text class="t2" x="2485.5" y="1195">D03</text></g>
<g id="hB-D04"><rect class="o2" x="2547" y="1200" width="47" height="57" rx="16"/><rect class="i2" x="2553" y="1209" width="35" height="39" rx="12"/><text class="t2" x="2570.5" y="1195">D04</text></g>
<g id="hB-D05"><rect class="o2" x="2634" y="1200" width="55" height="57" rx="16"/><rect class="i2" x="2640" y="1209" width="43" height="39" rx="12"/><text class="t2" x="2661.5" y="1195">D05</text></g>
<g id="hB-D06"><rect class="o2" x="2727" y="1200" width="57" height="57" rx="16"/><rect class="i2" x="2733" y="1209" width="45" height="39" rx="12"/><text class="t2" x="2755.5" y="1195">D06</text></g>
<g id="hB-D07"><rect class="o2" x="2823" y="1200" width="50" height="57" rx="16"/><rect class="i2" x="2829" y="1209" width="38" height="39" rx="12"/><text class="t2" x="2848" y="1195">D07</text></g>
<g id="hB-D08"><rect class="o2" x="2912" y="1200" width="59" height="57" rx="16"/><rect class="i2" x="2918" y="1209" width="47" height="39" rx="12"/><text class="t2" x="2941.5" y="1195">D08</text></g>
<g id="hB-D09"><rect class="o2" x="3009" y="1200" width="45" height="57" rx="16"/><rect class="i2" x="3015" y="1209" width="33" height="39" rx="12"/><text class="t2" x="3031.5" y="1195">D09</text></g>
<g id="hB-D10"><rect class="o2" x="3093" y="1200" width="58" height="57" rx="16"/><rect class="i2" x="3099" y="1209" width="46" height="39" rx="12"/><text class="t2" x="3122" y="1195">D10</text></g>
<g id="hB-D11"><rect class="o2" x="3188" y="1200" width="62" height="57" rx="16"/><rect class="i2" x="3194" y="1209" width="50" height="39" rx="12"/><text class="t2" x="3219" y="1195">D11</text></g>
<g id="hB-D12"><rect class="o2" x="3289" y="1200" width="54" height="57" rx="16"/><rect class="i2" x="3295" y="1209" width="42" height="39" rx="12"/><text class="t2" x="3316" y="1195">D12</text></g>
<g id="hB-D13"><rect class="o2" x="3381" y="1200" width="56" height="57" rx="16"/><rect class="i2" x="3387" y="1209" width="44" height="39" rx="12"/><text class="t2" x="3409" y="1195">D13</text></g>
</g>
<g id="barbadense">
<g id="b-A01"><rect class="o4" x="559" y="1783" width="102" height="57" rx="16"/><rect class="i4" x="566" y="1793" width="88" height="38" rx="12"/><text class="t4" x="610" y="1779">A01</text></g>
<g id="b-A02"><rect class="o4" x="701" y="1783" width="89" height="57" rx="16"/><rect class="i4" x="708" y="1793" width="75" height="38" rx="12"/><text class="t4" x="745.5" y="1779">A02</text></g>
<g id="b-A03"><rect class="o4" x="828" y="1783" width="94" height="57" rx="16"/><rect class="i4" x="835" y="1793" width="80" height="38" rx="12"/><text class="t4" x="875" y="1779">A03</text></g>
<g id="b-A04"><rect class="o4" x="962" y="1783" width="72" height="57" rx="16"/><rect class="i4" x="969" y="1793" width="58" height="38" rx="12"/><text class="t4" x="998" y="1779">A04</text></g>
<g id="b-A05"><rect class="o4" x="1075" y="1783" width="91" height="57" rx="16"/><rect class="i4" x="1082" y="1793" width="77" height="38" rx="12"/><text class="t4" x="1120.5" y="1779">A05</text></g>
<g id="b-A06"><rect class="o4" x="1205" y="1783" width="101" height="57" rx="16"/><rect class="i4" x="1212" y="1793" width="87" height="38" rx="12"/><text class="t4" x="1255.5" y="1779">A06</text></g>
<g id="b-A07"><rect class="o4" x="1347" y="1783" width="82" height="57" rx="16"/><rect class="i4" x="1354" y="1793" width="68" height="38" rx="12"/><text class="t4" x="1388" y="1779">A07</text></g>
<g id="b-A08"><rect class="o4" x="1470" y="1783" width="105" height="57" rx="16"/><rect class="i4" x="1477" y="1793" width="91" height="38" rx="12"/><text class="t4" x="1522.5" y="1779">A08</text></g>
<g id="b-A09"><rect class="o4" x="1614" y="1783" width="70" height="57" rx="16"/><rect class="i4" x="1621" y="1793" width="56" height="38" rx="12"/><text class="t4" x="1649" y="1779">A09</text></g>
<g id="b-A10"><rect class="o4" x="1723" y="1783" width="98" height="57" rx="16"/><rect class="i4" x="1730" y="1793" width="84" height="38" rx="12"/><text class="t4" x="1772" y="1779">A10</text></g>
<g id="b-A11"><rect class="o4" x="1860" y="1783" width="101" height="57" rx="16"/><rect class="i4" x="1867" y="1793" width="87" height="38" rx="12"/><text class="t4" x="1910.5" y="1779">A11</text></g>
<g id="b-A12"><rect class="o4" x="2009" y="1783" width="82" height="57" rx="16"/><rect class="i4" x="2016" y="1793" width="68" height="38" rx="12"/><text class="t4" x="2050" y="1779">A12</text></g>
<g id="b-A13"><rect class="o4" x="2131" y="1783" width="97" height="57" rx="16"/><rect class="i4" x="2138" y="1793" width="83" height="38" rx="12"/><text class="t4" x="2179.5" y="1779">A13</text></g>
<g id="b-D01"><rect class="o4" x="2268" y="1783" width="57" height="57" rx="16"/><rect class="i4" x="2275" y="1793" width="43" height="38" rx="12"/><text class="t4" x="2296.5" y="1779">D01</text></g>
<g id="b-D02"><rect class="o4" x="2363" y="1783" width="61" height="57" rx="16"/><rect class="i4" x="2370" y="1793" width="47" height="38" rx="12"/><text class="t4" x="2393.5" y="1779">D02</text></g>
<g id="b-D03"><rect class="o4" x="2462" y="1783" width="45" height="57" rx="16"/><rect class="i4" x="2469" y="1793" width="31" height="38" rx="12"/><text class="t4" x="2484.5" y="1779">D03</text></g>
<g id="b-D04"><rect class="o4" x="2547" y="1783" width="45" height="57" rx="16"/><rect class="i4" x="2554" y="1793" width="31" height="38" rx="12"/><text class="t4" x="2569.5" y="1779">D04</text></g>
<g id="b-D05"><rect class="o4" x="2633" y="1783" width="56" height="57" rx="16"/><rect class="i4" x="2640" y="1793" width="42" height="38" rx="12"/><text class="t4" x="2661" y="1779">D05</text></g>
<g id="b-D06"><rect class="o4" x="2727" y="1783" width="58" height="57" rx="16"/><rect class="i4" x="2734" y="1793" width="44" height="38" rx="12"/><text class="t4" x="2756" y="1779">D06</text></g>
<g id="b-D07"><rect class="o4" x="2822" y="1783" width="51" height="57" rx="16"/><rect class="i4" x="2829" y="1793" width="37" height="38" rx="12"/><text class="t4" x="2847.5" y="1779">D07</text></g>
<g id="b-D08"><rect class="o4" x="2911" y="1783" width="60" height="57" rx="16"/><rect class="i4" x="2918" y="1793" width="46" height="38" rx="12"/><text class="t4" x="2941" y="1779">D08</text></g>
<g id="b-D09"><rect class="o4" x="3008" y="1783" width="49" height="57" rx="16"/><rect class="i4" x="3015" y="1793" width="35" height="38" rx="12"/><text class="t4" x="3032.5" y="1779">D09</text></g>
<g id="b-D10"><rect class="o4" x="3093" y="1783" width="58" height="57" rx="16"/><rect class="i4" x="3100" y="1793" width="44" height="38" rx="12"/><text class="t4" x="3122" y="1779">D10</text></g>
<g id="b-D11"><rect class="o4" x="3190" y="1783" width="62" height="57" rx="16"/><rect class="i4" x="3197" y="1793" width="48" height="38" rx="12"/><text class="t4" x="3221" y="1779">D11</text></g>
<g id="b-D12"><rect class="o4" x="3290" y="1783" width="54" height="57" rx="16"/><rect class="i4" x="3297" y="1793" width="40" height="38" rx="12"/><text class="t4" x="3317" y="1779">D12</text></g>
<g id="b-D13"><rect class="o4" x="3383" y="1783" width="54" height="57" rx="16"/><rect class="i4" x="3390" y="1793" width="40" height="38" rx="12"/><text class="t4" x="3410" y="1779">D13</text></g>
</g>
</svg>
